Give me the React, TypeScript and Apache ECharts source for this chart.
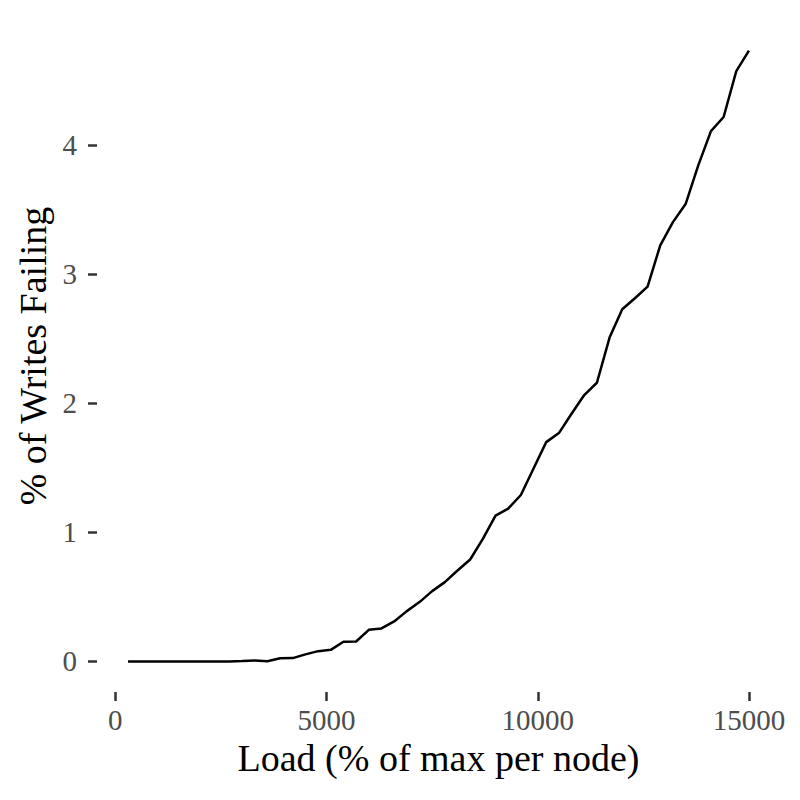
import * as echarts from "echarts"
import { useEffect, useRef } from "react"

// load (% of max per node), sampled every 300
const loads = [
  300, 600, 900, 1200, 1500, 1800, 2100, 2400, 2700, 3000,
  3300, 3600, 3900, 4200, 4500, 4800, 5100, 5400, 5700, 6000,
  6300, 6600, 6900, 7200, 7500, 7800, 8100, 8400, 8700, 9000,
  9300, 9600, 9900, 10200, 10500, 10800, 11100, 11400, 11700, 12000,
  12300, 12600, 12900, 13200, 13500, 13800, 14100, 14400, 14700, 15000,
]

// % of writes failing
const failing = [
  0, 0, 0, 0, 0, 0, 0, 0, 0, 0.003,
  0.008, 0.002, 0.025, 0.026, 0.055, 0.08, 0.09, 0.153, 0.155, 0.245,
  0.256, 0.31, 0.39, 0.46, 0.545, 0.615, 0.705, 0.79, 0.95, 1.13,
  1.185, 1.29, 1.495, 1.7, 1.77, 1.92, 2.065, 2.16, 2.51, 2.73,
  2.815, 2.905, 3.225, 3.405, 3.545, 3.845, 4.11, 4.22, 4.575, 4.735,
]

const xTicks = [0, 5000, 10000, 15000]
const yTicks = [0, 1, 2, 3, 4]

const FONT = "'Liberation Serif', 'DejaVu Serif', serif"

export default function App(): React.ReactElement {
  const ref = useRef<HTMLDivElement>(null)

  useEffect(() => {
    const node = ref.current
    if (!node) return
    const chart = echarts.init(node, undefined, { renderer: "svg" })

    // ggplot-style 5% expansion of the data range
    const xLo = Math.min(...loads)
    const xHi = Math.max(...loads)
    const yLo = Math.min(...failing)
    const yHi = Math.max(...failing)
    const xPad = (xHi - xLo) * 0.05
    const yPad = (yHi - yLo) * 0.05

    const tickStyle = { color: "#333333", width: 2.5 }
    const labelStyle = { fontFamily: FONT, fontSize: 29, color: "#4d4d4d" }

    chart.setOption({
      animation: false,
      backgroundColor: "#ffffff",
      grid: { left: 97, right: 20, top: 20, bottom: 108, outerBoundsMode: "none" },
      xAxis: {
        type: "value",
        min: xLo - xPad,
        max: xHi + xPad,
        name: "Load (% of max per node)",
        nameLocation: "middle",
        nameGap: 47,
        nameTextStyle: { fontFamily: FONT, fontSize: 38, color: "#000000" },
        axisLine: { show: false, onZero: false },
        axisTick: { show: true, length: 9, customValues: xTicks, lineStyle: tickStyle },
        axisLabel: { ...labelStyle, margin: 13, customValues: xTicks, formatter: (v: number) => String(v) },
        splitLine: { show: false },
      },
      yAxis: {
        type: "value",
        min: yLo - yPad,
        max: yHi + yPad,
        name: "% of Writes Failing",
        nameLocation: "middle",
        nameGap: 34,
        nameRotate: 90,
        nameTextStyle: { fontFamily: FONT, fontSize: 38, color: "#000000" },
        axisLine: { show: false, onZero: false },
        axisTick: { show: true, length: 9, customValues: yTicks, lineStyle: tickStyle },
        axisLabel: { ...labelStyle, margin: 20, customValues: yTicks, formatter: (v: number) => String(v) },
        splitLine: { show: false },
      },
      series: [
        {
          type: "line",
          data: loads.map((x, i) => [x, failing[i]]),
          showSymbol: false,
          lineStyle: { color: "#000000", width: 2.5 },
        },
      ],
    })

    return () => chart.dispose()
  }, [])

  return (
    <div
      ref={ref}
      style={{ position: "fixed", left: 0, top: 0, width: 800, height: 800, background: "#ffffff" }}
    />
  )
}
